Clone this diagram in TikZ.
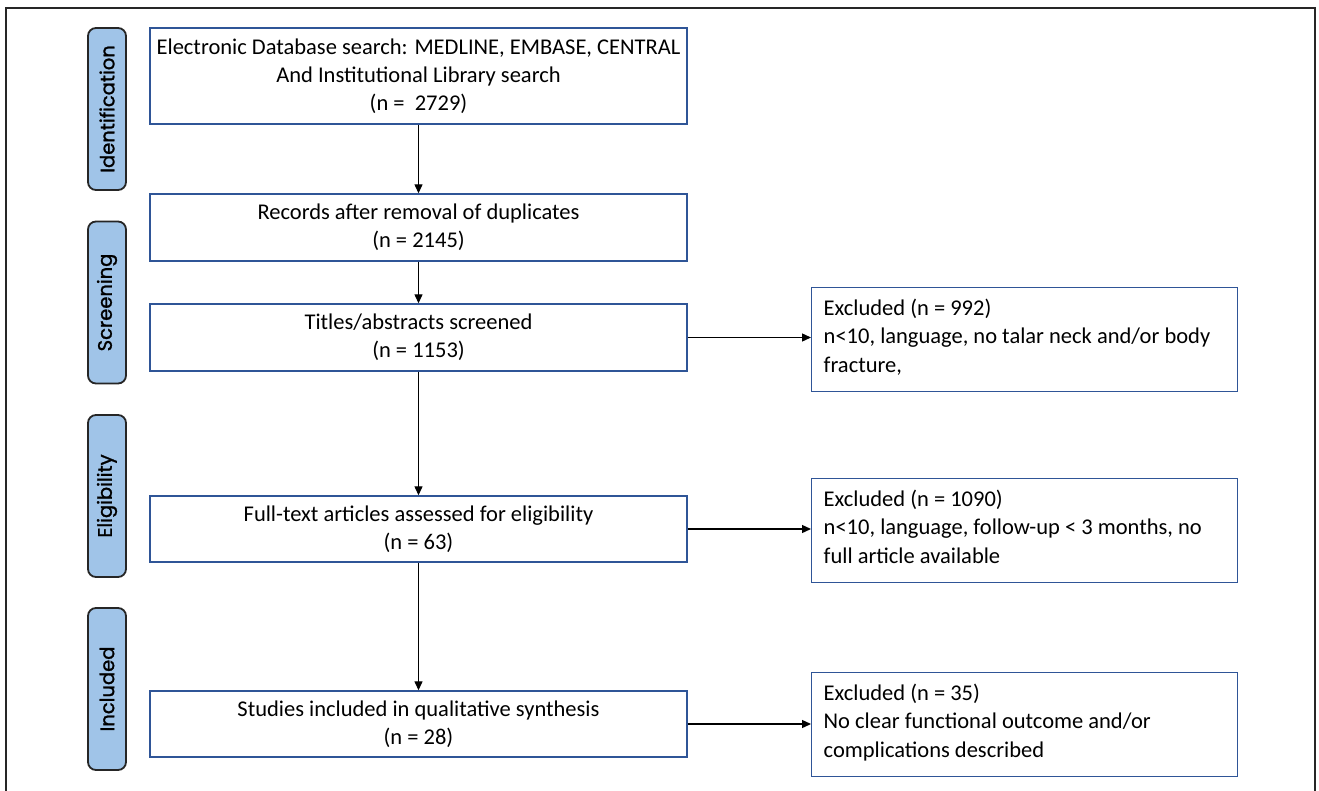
\documentclass[tikz,border=0pt]{standalone}
\usepackage{fontspec}
\setmainfont{Carlito}
\newfontfamily\stagefont{Poppins}[FakeBold=1.3]
\usetikzlibrary{arrows.meta}
\definecolor{boxblue}{HTML}{2F5597}
\definecolor{stagefill}{HTML}{A0C4E8}
\definecolor{stageline}{HTML}{262626}
\tikzset{
  mainbox/.style={draw=boxblue, line width=1.4pt, minimum width=537pt, align=center,
    font=\fontsize{22.5}{28}\selectfont, inner sep=0pt},
  exbox/.style={draw=boxblue, line width=1.4pt, anchor=north west, inner xsep=12pt, inner ysep=11pt,
    font=\fontsize{22.5}{28.5}\selectfont},
  stagebox/.style={draw=stageline, fill=stagefill, line width=1.8pt, rounded corners=8pt,
    rotate=90, minimum width=162pt, minimum height=38pt, inner sep=0pt,
    font=\stagefont\fontsize{19.5}{22}\selectfont},
  flow/.style={line width=1.3pt, -{Triangle[length=9pt,width=8pt]}},
}
\begin{document}
\begin{tikzpicture}[x=1pt,y=-1pt]
\useasboundingbox (0,0) rectangle (1319,791);
% outer frame
\coordinate (fbl) at (6,800);
\coordinate (ftl) at (6,8);
\coordinate (ftr) at (1315,8);
\coordinate (fbr) at (1315,800);
\draw[line width=1.3pt, color=black!85] (fbl) -- (ftl) -- (ftr) -- (fbr);
% stage labels
\node[stagebox] (sid) at (107,109) {Identification};
\node[stagebox] (ssc) at (107,302.5) {Screening};
\node[stagebox] (sel) at (107,496) {Eligibility};
\node[stagebox] (sin) at (107,689) {Included};
% main boxes
\node[mainbox, minimum height=96pt] (b1) at (418.5,76) {Electronic Database search: MEDLINE, EMBASE, CENTRAL\\And Institutional Library search\\(n =\ \ 2729)};
\node[mainbox, minimum height=67pt] (b2) at (418.5,227.5) {Records after removal of duplicates\\(n = 2145)};
\node[mainbox, minimum height=67pt] (b3) at (418.5,337.5) {Titles/abstracts screened\\(n = 1153)};
\node[mainbox, minimum height=66pt] (b4) at (418.5,529) {Full-text articles assessed for eligibility\\(n = 63)};
\node[mainbox, minimum height=66pt] (b5) at (418.5,724) {Studies included in qualitative synthesis\\(n = 28)};
% excluded boxes
\node[exbox] (ea) at (811,287) {\parbox[t][82pt][t]{402pt}{\raggedright Excluded (n = 992)\\n<10, language, no talar neck and/or body\\fracture,}};
\node[exbox] (eb) at (811,478) {\parbox[t][82pt][t]{402pt}{\raggedright Excluded (n = 1090)\\n<10, language, follow-up < 3 months, no\\full article available}};
\node[exbox] (ec) at (811,672) {\parbox[t][82pt][t]{402pt}{\raggedright Excluded (n = 35)\\No clear functional outcome and/or\\complications described}};
% connectors
\draw[flow] (b1) -- (b2);
\draw[flow] (b2) -- (b3);
\draw[flow] (b3) -- (b4);
\draw[flow] (b4) -- (b5);
\draw[flow] (b3.east) -- (b3.east -| ea.west);
\draw[flow] (b4.east) -- (b4.east -| eb.west);
\draw[flow] (b5.east) -- (b5.east -| ec.west);
\end{tikzpicture}
\end{document}
